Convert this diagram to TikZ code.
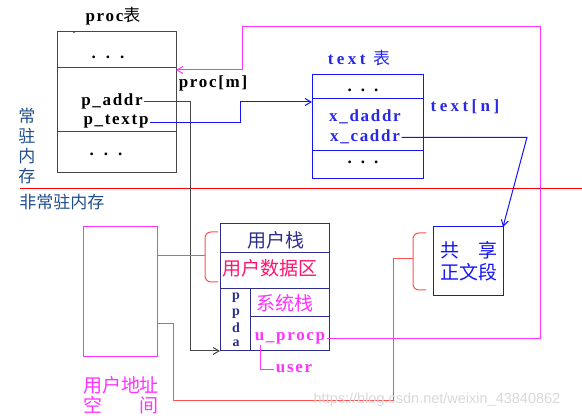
\documentclass[tikz,border=0pt]{standalone}
\usepackage{fontspec}
\setmainfont{Liberation Serif}
\newfontfamily\lat[LetterSpace=10]{Liberation Serif}
\newfontfamily\latw[LetterSpace=20]{Liberation Serif}
\newfontfamily\cjk{Noto Sans CJK SC}
\newfontfamily\wm{Liberation Sans}
\usetikzlibrary{arrows.meta}
\definecolor{lblue}{RGB}{31,78,140}
\definecolor{mag}{RGB}{255,51,255}
\definecolor{pblue}{RGB}{20,20,245}
\definecolor{tblue}{RGB}{40,40,230}
\definecolor{navy}{RGB}{45,45,140}
\definecolor{pinkred}{RGB}{255,20,110}
\definecolor{bred}{RGB}{255,80,80}
\definecolor{dgray}{RGB}{70,70,70}
\begin{document}
\begin{tikzpicture}[x=1pt,y=-1pt,
  box/.style={draw, inner sep=0pt, outer sep=0pt, line width=1pt},
  lt/.style={font=\lat\bfseries\fontsize{17}{17}\selectfont, inner sep=1.5pt, anchor=base},
  ltw/.style={font=\latw\bfseries\fontsize{17}{17}\selectfont, inner sep=1.5pt, anchor=base},
  ck/.style={font=\cjk\fontsize{19}{20}\selectfont, inner sep=0pt, align=center},
  cks/.style={font=\cjk\fontsize{17}{20}\selectfont, inner sep=0pt, align=center},
  vl/.style={font=\bfseries\fontsize{14}{14}\selectfont, inner sep=0pt, anchor=base, text=navy},
  dotrow/.style={font=\bfseries\fontsize{17}{17}\selectfont, inner sep=0pt},
  arr/.style={-{Straight Barb[length=6pt,width=7pt]}},
  ln/.style={line width=1pt}]
\fill[white] (0,0) rectangle (582,419);
\path[use as bounding box] (0,0) rectangle (582,419);

% divider between resident / non-resident memory
\draw[red,ln] (20,189) -- (582,189);

% proc table
\node[box, draw=dgray, minimum width=119pt, minimum height=141pt] (proc) at (116.5,102.5) {};
\draw[ln,dgray] (57,68) -- (176,68);
\draw[ln,dgray] (57,132) -- (176,132);
\fill[dgray] (74,32) circle (1.2pt);
\node[lt] (proctitle) at (113,22) {proc{\cjk\mdseries\fontsize{17}{17}\selectfont 表}};
\node[dotrow] (pdots1) at (108,57) {.\hspace{10pt}.\hspace{10pt}.};
\node[lt] (paddr) at (112,106) {p\_addr};
\node[lt] (ptext) at (116,125) {p\_textp};
\node[dotrow] (pdots2) at (106,154) {.\hspace{10pt}.\hspace{10pt}.};
\node[lt] (procm) at (213,88) {proc[m]};

% text table
\node[box, draw=pblue, minimum width=111pt, minimum height=104pt] (text) at (367.5,127) {};
\draw[ln,pblue] (312,99) -- (423,99);
\draw[ln,pblue] (312,151) -- (423,151);
\node[ltw, text=tblue] (texttitle) at (359,65) {text {\cjk\mdseries\fontsize{17}{17}\selectfont 表}};
\node[dotrow] (tdots1) at (363,90) {.\hspace{9pt}.\hspace{9pt}.};
\node[lt, text=tblue] (xdaddr) at (365,122) {x\_daddr};
\node[lt, text=tblue] (xcaddr) at (365,142) {x\_caddr};
\node[dotrow] (tdots2) at (363,162) {.\hspace{9pt}.\hspace{9pt}.};
\node[ltw, text=tblue] (textn) at (465,112) {text[n]};

% shared text segment
\node[box, draw=pblue, minimum width=70pt, minimum height=69pt] (shared) at (468,261.5) {};
\node[ck, text=pblue, font=\cjk\fontsize{19}{22}\selectfont] (sharedtxt) at (469,261) {共　享\\正文段};

% user address space
\node[box, draw=mag, minimum width=74pt, minimum height=130pt] (uas) at (120,292) {};
\node[ck, text=mag, align=left] (uaslabel) at (121,395) {用户地址\\空　　间};

% ppda block
\node[box, draw=navy, minimum width=109pt, minimum height=127pt] (ppda) at (274.5,287.5) {};
\draw[ln,navy] (220,253) -- (329,253);
\draw[ln,navy] (220,289) -- (329,289);
\draw[ln,navy] (250,289) -- (250,351);
\draw[ln,navy] (250,317) -- (329,317);
\node[ck, text=navy] (ustack) at (276,240) {用户栈};
\node[ck, text=pinkred] (udata) at (270,268) {用户数据区};
\node[ck, text=mag] (sstack) at (285,303) {系统栈};
\node[lt, text=mag] (uprocp) at (290,341) {u\_procp};
\node[vl] (pp1) at (236,300) {p};
\node[vl] (pp2) at (236,316) {p};
\node[vl] (pp3) at (236,333) {d};
\node[vl] (pp4) at (236,347) {a};
\node[lt, text=mag] (user) at (294,373) {user};
\coordinate (userTop) at (260,345);
\draw[ln,mag] (userTop) |- (user.west);

% left labels
\node[cks, text=lblue] (resident) at (27,146) {常\\驻\\内\\存};
\node[cks, text=lblue] (nonresident) at (62,202) {非常驻内存};

% connectors
\coordinate (textIn) at (312,102);
\coordinate (procIn) at (176,70);
\coordinate (cbend) at (527,137);
\draw[ln,dgray,arr] (paddr.east) -| (190,351) -- (ppda.south west);
\draw[ln,pblue,arr] (ptext.east) -| (240,102) -- (textIn);
\draw[ln,mag,arr] (uprocp.east) -| (540,27) -| (242,70) -- (procIn);
\draw[ln,pblue,arr] (xcaddr.east) -- (xcaddr.east -| cbend) -- (shared.north east);

% braces and red connectors
\coordinate (braceA) at (205,256);
\coordinate (braceB) at (413,259);
\draw[ln,bred,rounded corners=6pt] (218,232) -- (205,232) -- (205,282) -- (218,282);
\draw[ln,bred,rounded corners=6pt] (426,233) -- (413,233) -- (413,290) -- (426,290);
\draw[ln,bred] (braceA) -- (uas.east |- braceA);
\coordinate (uasOut) at (157,324);
\draw[ln,bred] (braceB) -| (393,401) -| (173,324) -- (uasOut);

% watermark
\node[font=\wm\fontsize{14.5}{14.5}\selectfont, text=gray!30, inner sep=0pt] (wm) at (437,400) {https://blog.csdn.net/weixin\_43840862};
\end{tikzpicture}
\end{document}
